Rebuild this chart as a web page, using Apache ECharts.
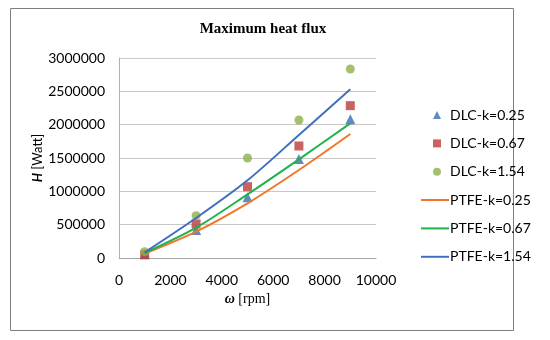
<!DOCTYPE html>
<html><head><meta charset="utf-8">
<script src="https://cdn.jsdelivr.net/npm/echarts@6/dist/echarts.min.js"></script>
<style>html,body{margin:0;padding:0;background:#fff}#c{width:550px;height:340px}</style>
</head><body><div id="c"></div>
<script>
const rpm = [1000, 3000, 5000, 7000, 9000];
const dlc025 = [55000, 420000, 910000, 1485000, 2080000];
const dlc067 = [50000, 510000, 1070000, 1680000, 2285000];
const dlc154 = [95000, 635000, 1500000, 2070000, 2835000];
const ptfe025 = [65000, 395000, 820000, 1320000, 1860000];
const ptfe067 = [75000, 455000, 955000, 1480000, 2020000];
const ptfe154 = [85000, 600000, 1165000, 1845000, 2530000];
const pairs = a => rpm.map((x, i) => [x, a[i]]);
const F = 'Lato, "Open Sans", sans-serif';
const chart = echarts.init(document.getElementById('c'));
chart.setOption({
  animation: false,
  title: { text: 'Maximum heat flux', left: 258, textAlign: 'center', top: 17,
    textStyle: { fontFamily: '"Liberation Serif", serif', fontWeight: 'bold', fontSize: 15, color: '#000' } },
  graphic: [{ type: 'rect', shape: { x: 10.5, y: 8.5, width: 503, height: 322 },
    style: { fill: 'none', stroke: '#7f7f7f', lineWidth: 1 } }],
  grid: { left: 119, right: 174, top: 58, bottom: 82, containLabel: false },
  legend: [{
    orient: 'vertical', left: 428, top: 101, itemGap: 10.4, itemWidth: 8, itemHeight: 8,
    textStyle: { fontFamily: F, fontSize: 14, color: '#000', lineHeight: 18, padding: [0, 0, 0, 4] },
    data: [
      { name: 'DLC-k=0.25', icon: 'triangle' },
      { name: 'DLC-k=0.67', icon: 'rect' },
      { name: 'DLC-k=1.54', icon: 'circle' }
    ]
  }, {
    orient: 'vertical', left: 416, top: 186, itemGap: 10.4, itemWidth: 28, itemHeight: 2,
    textStyle: { fontFamily: F, fontSize: 14, color: '#000', lineHeight: 18, padding: [0, 0, 0, -4] },
    data: [
      { name: 'PTFE-k=0.25', icon: 'rect' },
      { name: 'PTFE-k=0.67', icon: 'rect' },
      { name: 'PTFE-k=1.54', icon: 'rect' }
    ]
  }],
  xAxis: {
    type: 'value', min: 0, max: 10000, interval: 2000,
    name: '{w|ω} [rpm]', nameLocation: 'middle', nameGap: 33,
    nameTextStyle: { fontFamily: '"Liberation Serif", serif', fontSize: 14, color: '#000',
      rich: { w: { fontFamily: '"Liberation Serif", serif', fontStyle: 'italic', fontWeight: 'bold', fontSize: 14 } } },
    axisLine: { lineStyle: { color: '#a6a6a6' } },
    axisTick: { show: false },
    splitLine: { show: false },
    axisLabel: { fontFamily: F, fontSize: 14, color: '#000', margin: 15, formatter: v => String(v) }
  },
  yAxis: {
    type: 'value', min: 0, max: 3000000, interval: 500000,
    name: '{h|H} [Watt]', nameLocation: 'middle', nameGap: 67, nameRotate: 90,
    nameTextStyle: { fontFamily: F, fontSize: 13, color: '#000',
      rich: { h: { fontFamily: F, fontStyle: 'italic', fontWeight: 'bold', fontSize: 13 } } },
    axisLine: { show: true, lineStyle: { color: '#b0b0b0' } },
    axisTick: { show: false },
    splitLine: { lineStyle: { color: '#c8c8c8' } },
    axisLabel: { fontFamily: F, fontSize: 14, color: '#000', margin: 14, formatter: v => String(v) }
  },
  series: [
    { name: 'DLC-k=0.25', type: 'scatter', data: pairs(dlc025), symbol: 'triangle', symbolSize: 10,
      itemStyle: { color: '#3a6cb3' } },
    { name: 'DLC-k=0.67', type: 'scatter', data: pairs(dlc067), symbol: 'rect', symbolSize: 9,
      itemStyle: { color: '#be3b3b' } },
    { name: 'DLC-k=1.54', type: 'scatter', data: pairs(dlc154), symbol: 'circle', symbolSize: 9,
      itemStyle: { color: '#8db04a' } },
    { name: 'PTFE-k=0.25', type: 'line', data: pairs(ptfe025), smooth: 0.3, showSymbol: false, symbol: 'none',
      lineStyle: { color: '#f0772a', width: 2 }, itemStyle: { color: '#f0772a' } },
    { name: 'PTFE-k=0.67', type: 'line', data: pairs(ptfe067), smooth: 0.3, showSymbol: false, symbol: 'none',
      lineStyle: { color: '#1fb24a', width: 2 }, itemStyle: { color: '#1fb24a' } },
    { name: 'PTFE-k=1.54', type: 'line', data: pairs(ptfe154), smooth: 0.3, showSymbol: false, symbol: 'none',
      lineStyle: { color: '#3e6fc0', width: 2 }, itemStyle: { color: '#3e6fc0' } }
  ]
});
</script></body></html>
